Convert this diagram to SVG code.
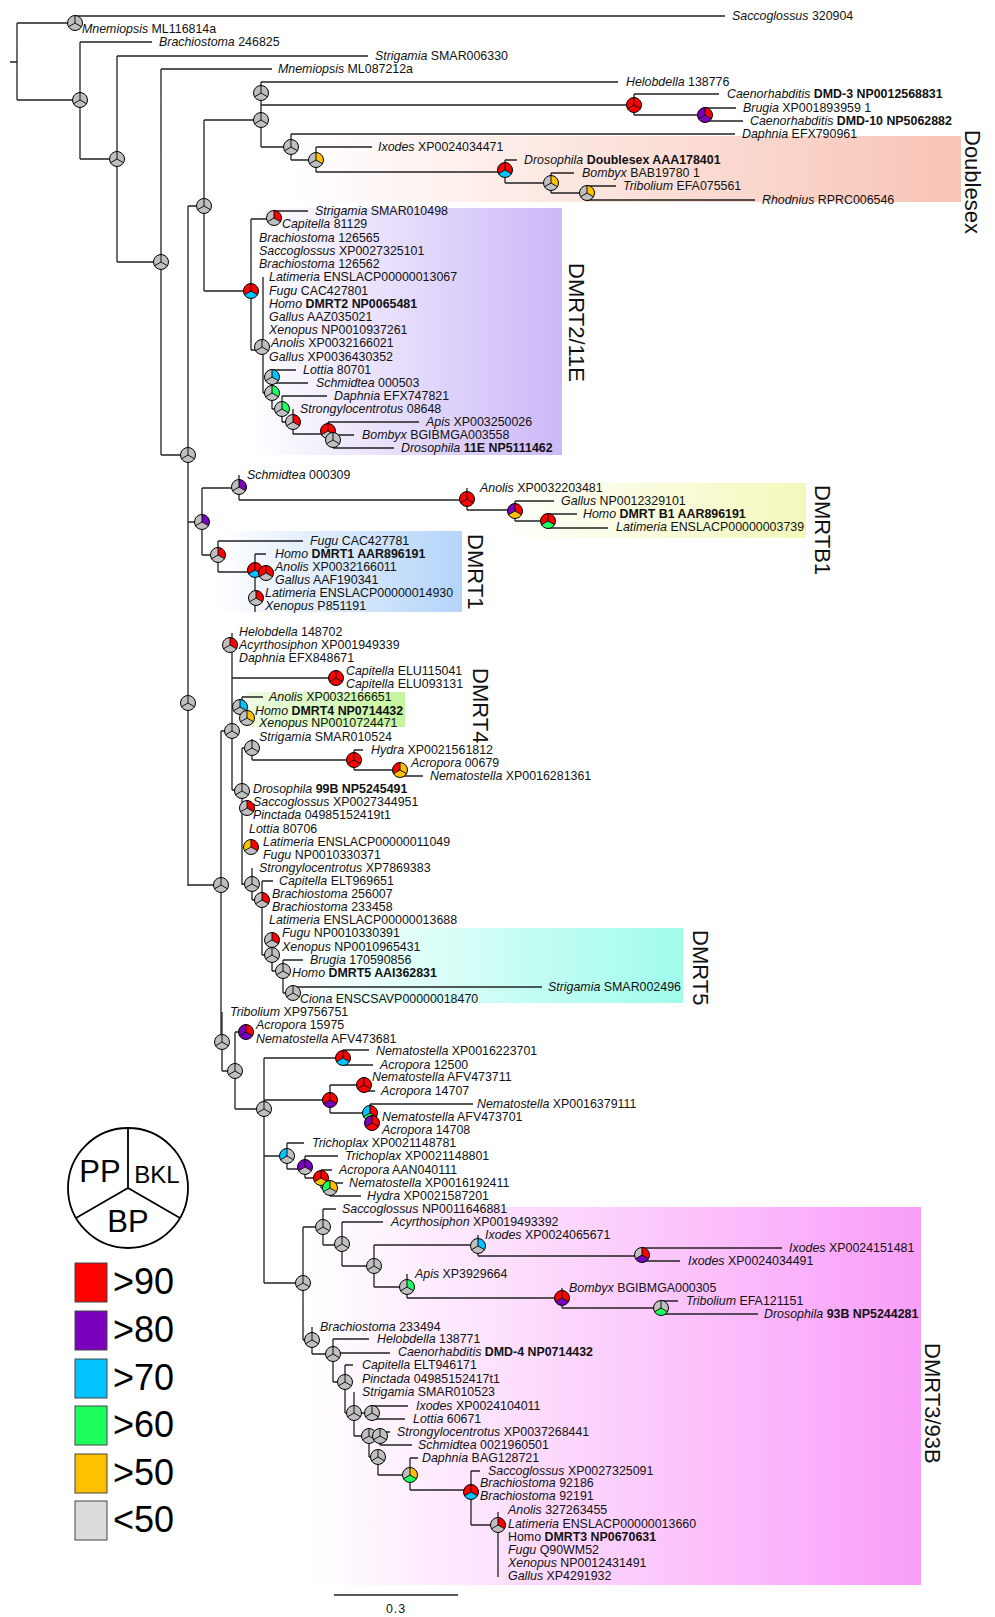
<svg xmlns="http://www.w3.org/2000/svg" xmlns:xlink="http://www.w3.org/1999/xlink" width="995" height="1617" viewBox="0 0 995 1617">
<style>
.t{font-family:"Liberation Sans",Arial,sans-serif;font-size:12.4px;fill:#111}
.i{font-style:italic}
.b{font-weight:bold}
.cl{font-family:"Liberation Sans",Arial,sans-serif;font-size:22px;fill:#111}
.lg{font-family:"Liberation Sans",Arial,sans-serif;fill:#000}
.g{fill:#BFBFBF}.r{fill:#FF0000}.p{fill:#7A00BE}.c{fill:#00C3FF}.e{fill:#1CFF5E}.y{fill:#FFC000}
.ed{fill:none;stroke:#222;stroke-width:1.3}
.sq{stroke:#444;stroke-width:1}
</style>
<defs>
<linearGradient id="gDsx" x1="0" x2="1" y1="0" y2="0"><stop offset="0" stop-color="#FFFFFF"/><stop offset="1" stop-color="#F8C4B6"/></linearGradient>
<linearGradient id="gD2" x1="0" x2="1" y1="0" y2="0"><stop offset="0" stop-color="#FFFFFF"/><stop offset="1" stop-color="#CCB8F8"/></linearGradient>
<linearGradient id="gB1" x1="0" x2="1" y1="0" y2="0"><stop offset="0" stop-color="#FFFFFF"/><stop offset="1" stop-color="#F4F8BA"/></linearGradient>
<linearGradient id="gD1" x1="0" x2="1" y1="0" y2="0"><stop offset="0" stop-color="#FFFFFF"/><stop offset="1" stop-color="#B4D4FA"/></linearGradient>
<linearGradient id="gD4" x1="0" x2="1" y1="0" y2="0"><stop offset="0" stop-color="#EEFCE2"/><stop offset="1" stop-color="#C4F59C"/></linearGradient>
<linearGradient id="gD5" x1="0" x2="1" y1="0" y2="0"><stop offset="0" stop-color="#FFFFFF"/><stop offset="1" stop-color="#A0FCEC"/></linearGradient>
<linearGradient id="gD3" x1="0" x2="1" y1="0" y2="0"><stop offset="0" stop-color="#FFFFFF"/><stop offset="1" stop-color="#F99EF9"/></linearGradient>
<path id="a" d="M0 0V-7.5A7.5 7.5 0 0 0 -6.495 3.75Z"/>
<path id="b" d="M0 0V-7.5A7.5 7.5 0 0 1 6.495 3.75Z"/>
<path id="c" d="M0 0L6.495 3.75A7.5 7.5 0 0 1 -6.495 3.75Z"/>
<g id="f"><circle r="7.5" fill="none" stroke="#000" stroke-width="1"/><path d="M0 0V-7.5M0 0L6.495 3.75M0 0L-6.495 3.75" stroke="#000" stroke-width="0.9" fill="none"/></g>
<g id="G"><circle r="7.5" class="g"/><use href="#f"/></g>
</defs>
<rect width="995" height="1617" fill="#FFFFFF"/>
<g id="clades">
<rect x="290" y="136" width="671" height="66" fill="url(#gDsx)"/>
<rect x="250" y="208" width="312" height="247" fill="url(#gD2)"/>
<rect x="490" y="483" width="316" height="55" fill="url(#gB1)"/>
<rect x="216" y="531" width="246" height="81" fill="url(#gD1)"/>
<rect x="247" y="692" width="158" height="35" fill="url(#gD4)"/>
<rect x="280" y="928" width="403" height="75" fill="url(#gD5)"/>
<rect x="310" y="1207" width="611" height="378" fill="url(#gD3)"/>
<text class="cl" transform="translate(965,130) rotate(90)">Doublesex</text>
<text class="cl" transform="translate(569,263) rotate(90)">DMRT2/11E</text>
<text class="cl" transform="translate(815,485) rotate(90)">DMRTB1</text>
<text class="cl" transform="translate(468,534) rotate(90)">DMRT1</text>
<text class="cl" transform="translate(473,668) rotate(90)">DMRT4</text>
<text class="cl" transform="translate(693,930) rotate(90)">DMRT5</text>
<text class="cl" transform="translate(925,1343) rotate(90)">DMRT3/93B</text>
</g>
<g id="connectors">
<path class="ed" d="M10 62H17M17 23V100M17 23H75M75 16V29M75 16H725M17 100H80M80 42V159M80 42H152M80 159H117M117 56V262M117 56H368M117 262H161M161 69V455M161 69H272M161 455H188M188 206V886M188 206H204M204 120V291M204 120H261M261 82V147M261 82H618M261 105H634M634 94V115M634 94H719M634 115H705M705 108V121M705 108H736M705 121H743M261 147H291M291 134V160M291 134H735M291 160H316M316 147V172M316 147H372M316 172H505M505 160V183M505 160H517M505 183H551M551 173V193M551 173H574M551 193H587M587 186V200M587 186H616M587 200H755"/>
<path class="ed" d="M204 291H251M251 219V350M251 219H274M274 211V225M274 211H308M251 350H263M263 277V393M263 393H272M272 377V409M273 370V383M273 370H296M273 383H308M272 409H282M282 396V422M282 396H327M282 422H293M293 409V434M293 434H328M328 422V440M328 422H419M328 440H333M333 435V448M333 435H354M333 448H394"/>
<path class="ed" d="M188 522H202M202 488V555M202 488H239M239 475V500M239 500H467M467 488V510M467 510H515M515 501V521M515 501H554M515 521H548M548 514V528M548 514H577M548 528H608M202 555H218M218 541V572M218 541H303M218 572H255M255 554V612M255 554H266"/>
<path class="ed" d="M188 885H221M221 731V1042M221 731H232M232 633V790M232 678H336M336 671V684M232 707H242M242 697V718M242 697H263M232 790H242M242 748V885M242 748H252M252 739V760M252 760H354M354 750V770M354 750H363M354 770H400M400 763V776M400 776H423M242 884H252M252 868V900M252 900H262M262 881V955M262 881H273M262 955H272M272 940V971M272 971H283M283 960V993M283 960H303M283 993H293M293 987V999M293 987H542"/>
<path class="ed" d="M222 1012V1071M222 1071H235M235 1032V1109M235 1032H246M235 1109H264M264 1058V1283M264 1058H343M343 1050V1065M343 1050H369M343 1065H373M264 1100H330M330 1085V1113M330 1085H364M364 1077V1091M364 1091H375M330 1113H370M370 1104V1123M370 1104H473M264 1156H287M287 1143V1169M287 1143H304M287 1169H305M305 1156V1178M305 1156H338M305 1178H321M321 1170V1188M321 1170H332M321 1188H330M330 1183V1196M330 1183H343M330 1196H361"/>
<path class="ed" d="M264 1283H303M303 1227V1340M303 1227H323M323 1209V1245M323 1209H336M323 1245H342M342 1222V1266M342 1222H383M342 1266H374M374 1245V1287M374 1245H478M478 1235V1256M478 1256H642M642 1248V1261M642 1248H782M642 1261H680M374 1287H407M407 1274V1298M407 1298H562M562 1288V1308M562 1308H661M661 1301V1314M661 1301H678M661 1314H758"/>
<path class="ed" d="M303 1340H312M312 1327V1354M312 1354H333M333 1339V1382M333 1339H369M333 1353H390M333 1382H345M345 1365V1413M345 1365H353M345 1413H354M354 1392V1436M354 1413H372M372 1406V1419M372 1406H408M372 1419H405M354 1436H380M380 1432V1445M380 1432H390M380 1445H412M369 1436V1457M369 1457H378M378 1457V1475M378 1475H410M410 1458V1490M410 1458H418M410 1490H471M471 1471V1525M471 1471H480M471 1525H498M498 1512V1577"/>
<path class="ed" d="M334 1595H458"/>
</g>
<g id="labels" class="t">
<text x="732" y="20.4"><tspan class="i">Saccoglossus</tspan> 320904</text>
<text x="82" y="33.4"><tspan class="i">Mnemiopsis</tspan> ML116814a</text>
<text x="159" y="46.4"><tspan class="i">Brachiostoma</tspan> 246825</text>
<text x="375" y="60.4"><tspan class="i">Strigamia</tspan> SMAR006330</text>
<text x="278" y="73.4"><tspan class="i">Mnemiopsis</tspan> ML087212a</text>
<text x="626" y="86.4"><tspan class="i">Helobdella</tspan> 138776</text>
<text x="727" y="98.4"><tspan class="i">Caenorhabditis</tspan> <tspan class="b">DMD-3 NP0012568831</tspan></text>
<text x="743" y="112.4"><tspan class="i">Brugia</tspan> XP001893959 1</text>
<text x="750" y="125.4"><tspan class="i">Caenorhabditis</tspan> <tspan class="b">DMD-10 NP5062882</tspan></text>
<text x="742" y="138.4"><tspan class="i">Daphnia</tspan> EFX790961</text>
<text x="378" y="151.4"><tspan class="i">Ixodes</tspan> XP0024034471</text>
<text x="524" y="164.4"><tspan class="i">Drosophila</tspan> <tspan class="b">Doublesex AAA178401</tspan></text>
<text x="582" y="177.4"><tspan class="i">Bombyx</tspan> BAB19780 1</text>
<text x="623" y="190.4"><tspan class="i">Tribolium</tspan> EFA075561</text>
<text x="762" y="203.9"><tspan class="i">Rhodnius</tspan> RPRC006546</text>
<text x="315" y="215.4"><tspan class="i">Strigamia</tspan> SMAR010498</text>
<text x="282" y="228.4"><tspan class="i">Capitella</tspan> 81129</text>
<text x="259" y="242.4"><tspan class="i">Brachiostoma</tspan> 126565</text>
<text x="259" y="255.4"><tspan class="i">Saccoglossus</tspan> XP0027325101</text>
<text x="259" y="268.4"><tspan class="i">Brachiostoma</tspan> 126562</text>
<text x="269" y="281.4"><tspan class="i">Latimeria</tspan> ENSLACP00000013067</text>
<text x="269" y="294.6"><tspan class="i">Fugu</tspan> CAC427801</text>
<text x="269" y="308"><tspan class="i">Homo</tspan> <tspan class="b">DMRT2 NP0065481</tspan></text>
<text x="269" y="321"><tspan class="i">Gallus</tspan> AAZ035021</text>
<text x="269" y="334.2"><tspan class="i">Xenopus</tspan> NP0010937261</text>
<text x="271" y="347.2"><tspan class="i">Anolis</tspan> XP0032166021</text>
<text x="269" y="361"><tspan class="i">Gallus</tspan> XP0036430352</text>
<text x="303" y="374.2"><tspan class="i">Lottia</tspan> 80701</text>
<text x="316" y="387.2"><tspan class="i">Schmidtea</tspan> 000503</text>
<text x="334" y="400.4"><tspan class="i">Daphnia</tspan> EFX747821</text>
<text x="300" y="413.2"><tspan class="i">Strongylocentrotus</tspan> 08648</text>
<text x="426" y="426.2"><tspan class="i">Apis</tspan> XP003250026</text>
<text x="362" y="439.2"><tspan class="i">Bombyx</tspan> BGIBMGA003558</text>
<text x="401" y="452.2"><tspan class="i">Drosophila</tspan> <tspan class="b">11E NP5111462</tspan></text>
<text x="247" y="479.4"><tspan class="i">Schmidtea</tspan> 000309</text>
<text x="480" y="492.4"><tspan class="i">Anolis</tspan> XP0032203481</text>
<text x="561" y="505.4"><tspan class="i">Gallus</tspan> NP0012329101</text>
<text x="583" y="518.4"><tspan class="i">Homo</tspan> <tspan class="b">DMRT B1 AAR896191</tspan></text>
<text x="616" y="531.4"><tspan class="i">Latimeria</tspan> ENSLACP00000003739</text>
<text x="310" y="545.4"><tspan class="i">Fugu</tspan> CAC427781</text>
<text x="275" y="558.4"><tspan class="i">Homo</tspan> <tspan class="b">DMRT1 AAR896191</tspan></text>
<text x="275" y="570.6"><tspan class="i">Anolis</tspan> XP0032166011</text>
<text x="275" y="583.6"><tspan class="i">Gallus</tspan> AAF190341</text>
<text x="265" y="597.2"><tspan class="i">Latimeria</tspan> ENSLACP00000014930</text>
<text x="265" y="610.2"><tspan class="i">Xenopus</tspan> P851191</text>
<text x="239" y="636.2"><tspan class="i">Helobdella</tspan> 148702</text>
<text x="239" y="649.4"><tspan class="i">Acyrthosiphon</tspan> XP001949339</text>
<text x="239" y="662.2"><tspan class="i">Daphnia</tspan> EFX848671</text>
<text x="346" y="675.2"><tspan class="i">Capitella</tspan> ELU115041</text>
<text x="346" y="688.4"><tspan class="i">Capitella</tspan> ELU093131</text>
<text x="269" y="701.2"><tspan class="i">Anolis</tspan> XP0032166651</text>
<text x="255" y="714.6"><tspan class="i">Homo</tspan> <tspan class="b">DMRT4 NP0714432</tspan></text>
<text x="259" y="727.4"><tspan class="i">Xenopus</tspan> NP0010724471</text>
<text x="259" y="741"><tspan class="i">Strigamia</tspan> SMAR010524</text>
<text x="371" y="754.2"><tspan class="i">Hydra</tspan> XP0021561812</text>
<text x="411" y="767"><tspan class="i">Acropora</tspan> 00679</text>
<text x="430" y="780.4"><tspan class="i">Nematostella</tspan> XP0016281361</text>
<text x="253" y="792.6"><tspan class="i">Drosophila</tspan> <tspan class="b">99B NP5245491</tspan></text>
<text x="253" y="806"><tspan class="i">Saccoglossus</tspan> XP0027344951</text>
<text x="253" y="819.4"><tspan class="i">Pinctada</tspan> 04985152419t1</text>
<text x="249" y="833.2"><tspan class="i">Lottia</tspan> 80706</text>
<text x="263" y="846.2"><tspan class="i">Latimeria</tspan> ENSLACP00000011049</text>
<text x="263" y="859.2"><tspan class="i">Fugu</tspan> NP0010330371</text>
<text x="259" y="872.2"><tspan class="i">Strongylocentrotus</tspan> XP7869383</text>
<text x="279" y="885.2"><tspan class="i">Capitella</tspan> ELT969651</text>
<text x="272" y="898.2"><tspan class="i">Brachiostoma</tspan> 256007</text>
<text x="272" y="911"><tspan class="i">Brachiostoma</tspan> 233458</text>
<text x="269" y="924.2"><tspan class="i">Latimeria</tspan> ENSLACP00000013688</text>
<text x="282" y="937"><tspan class="i">Fugu</tspan> NP0010330391</text>
<text x="282" y="950.6"><tspan class="i">Xenopus</tspan> NP0010965431</text>
<text x="310" y="964"><tspan class="i">Brugia</tspan> 170590856</text>
<text x="292" y="977"><tspan class="i">Homo</tspan> <tspan class="b">DMRT5 AAI362831</tspan></text>
<text x="548" y="990.6"><tspan class="i">Strigamia</tspan> SMAR002496</text>
<text x="300" y="1003"><tspan class="i">Ciona</tspan> ENSCSAVP00000018470</text>
<text x="230" y="1016"><tspan class="i">Tribolium</tspan> XP9756751</text>
<text x="256" y="1029.4"><tspan class="i">Acropora</tspan> 15975</text>
<text x="256" y="1042.6"><tspan class="i">Nematostella</tspan> AFV473681</text>
<text x="376" y="1054.6"><tspan class="i">Nematostella</tspan> XP0016223701</text>
<text x="380" y="1069.4"><tspan class="i">Acropora</tspan> 12500</text>
<text x="372" y="1081.4"><tspan class="i">Nematostella</tspan> AFV473711</text>
<text x="381" y="1095.4"><tspan class="i">Acropora</tspan> 14707</text>
<text x="477" y="1108.4"><tspan class="i">Nematostella</tspan> XP0016379111</text>
<text x="382" y="1121.4"><tspan class="i">Nematostella</tspan> AFV473701</text>
<text x="382" y="1134.4"><tspan class="i">Acropora</tspan> 14708</text>
<text x="312" y="1147.4"><tspan class="i">Trichoplax</tspan> XP0021148781</text>
<text x="345" y="1160.4"><tspan class="i">Trichoplax</tspan> XP0021148801</text>
<text x="339" y="1174.4"><tspan class="i">Acropora</tspan> AAN040111</text>
<text x="349" y="1187.4"><tspan class="i">Nematostella</tspan> XP0016192411</text>
<text x="367" y="1200.4"><tspan class="i">Hydra</tspan> XP0021587201</text>
<text x="342" y="1213.4"><tspan class="i">Saccoglossus</tspan> NP0011646881</text>
<text x="391" y="1226.4"><tspan class="i">Acyrthosiphon</tspan> XP0019493392</text>
<text x="485" y="1239.4"><tspan class="i">Ixodes</tspan> XP0024065671</text>
<text x="789" y="1252.4"><tspan class="i">Ixodes</tspan> XP0024151481</text>
<text x="688" y="1265.4"><tspan class="i">Ixodes</tspan> XP0024034491</text>
<text x="415" y="1278.4"><tspan class="i">Apis</tspan> XP3929664</text>
<text x="569" y="1292.4"><tspan class="i">Bombyx</tspan> BGIBMGA000305</text>
<text x="686" y="1305.4"><tspan class="i">Tribolium</tspan> EFA121151</text>
<text x="764" y="1318.4"><tspan class="i">Drosophila</tspan> <tspan class="b">93B NP5244281</tspan></text>
<text x="320" y="1331.4"><tspan class="i">Brachiostoma</tspan> 233494</text>
<text x="377" y="1343.4"><tspan class="i">Helobdella</tspan> 138771</text>
<text x="398" y="1356.4"><tspan class="i">Caenorhabditis</tspan> <tspan class="b">DMD-4 NP0714432</tspan></text>
<text x="362" y="1369.4"><tspan class="i">Capitella</tspan> ELT946171</text>
<text x="362" y="1383.4"><tspan class="i">Pinctada</tspan> 04985152417t1</text>
<text x="362" y="1396.4"><tspan class="i">Strigamia</tspan> SMAR010523</text>
<text x="416" y="1410.4"><tspan class="i">Ixodes</tspan> XP0024104011</text>
<text x="413" y="1423.4"><tspan class="i">Lottia</tspan> 60671</text>
<text x="397" y="1436.4"><tspan class="i">Strongylocentrotus</tspan> XP0037268441</text>
<text x="418" y="1449.4"><tspan class="i">Schmidtea</tspan> 0021960501</text>
<text x="422" y="1462.4"><tspan class="i">Daphnia</tspan> BAG128721</text>
<text x="488" y="1475.4"><tspan class="i">Saccoglossus</tspan> XP0027325091</text>
<text x="480" y="1487.4"><tspan class="i">Brachiostoma</tspan> 92186</text>
<text x="480" y="1500.4"><tspan class="i">Brachiostoma</tspan> 92191</text>
<text x="508" y="1514.4"><tspan class="i">Anolis</tspan> 327263455</text>
<text x="508" y="1528.4"><tspan class="i">Latimeria</tspan> ENSLACP00000013660</text>
<text x="508" y="1541.4">Homo <tspan class="b">DMRT3 NP0670631</tspan></text>
<text x="508" y="1554.4"><tspan class="i">Fugu</tspan> Q90WM52</text>
<text x="508" y="1567.4"><tspan class="i">Xenopus</tspan> NP0012431491</text>
<text x="508" y="1580.4"><tspan class="i">Gallus</tspan> XP4291932</text>
<text x="396" y="1613" text-anchor="middle" letter-spacing="1">0.3</text>
</g>
<g id="nodes">
<g id="n1" transform="translate(75,23)"><use href="#G"/></g>
<g id="n2" transform="translate(80,100)"><use href="#G"/></g>
<g id="n3" transform="translate(117,159)"><use href="#G"/></g>
<g id="n4" transform="translate(161,262)"><use href="#G"/></g>
<g id="n5" transform="translate(188,455)"><use href="#G"/></g>
<g id="n6" transform="translate(204,206)"><use href="#G"/></g>
<g id="n7" transform="translate(261,120)"><use href="#G"/></g>
<g id="n8" transform="translate(261,93)"><use href="#G"/></g>
<g id="n9" transform="translate(634,105)"><use href="#a" class="r"/><use href="#b" class="r"/><use href="#c" class="r"/><use href="#f"/></g>
<g id="n10" transform="translate(705,115)"><use href="#a" class="p"/><use href="#b" class="r"/><use href="#c" class="p"/><use href="#f"/></g>
<g id="n11" transform="translate(291,147)"><use href="#G"/></g>
<g id="n12" transform="translate(316,160)"><use href="#a" class="g"/><use href="#b" class="y"/><use href="#c" class="g"/><use href="#f"/></g>
<g id="n13" transform="translate(505,170)"><use href="#a" class="r"/><use href="#b" class="r"/><use href="#c" class="c"/><use href="#f"/></g>
<g id="n14" transform="translate(551,183)"><use href="#a" class="g"/><use href="#b" class="y"/><use href="#c" class="g"/><use href="#f"/></g>
<g id="n15" transform="translate(587,193)"><use href="#a" class="g"/><use href="#b" class="y"/><use href="#c" class="g"/><use href="#f"/></g>
<g id="n16" transform="translate(251,291)"><use href="#a" class="r"/><use href="#b" class="r"/><use href="#c" class="c"/><use href="#f"/></g>
<g id="n17" transform="translate(274,218)"><use href="#a" class="g"/><use href="#b" class="r"/><use href="#c" class="g"/><use href="#f"/></g>
<g id="n18" transform="translate(262,347)"><use href="#G"/></g>
<g id="n19" transform="translate(272,393)"><use href="#a" class="g"/><use href="#b" class="e"/><use href="#c" class="g"/><use href="#f"/></g>
<g id="n20" transform="translate(272,377)"><use href="#a" class="g"/><use href="#b" class="c"/><use href="#c" class="g"/><use href="#f"/></g>
<g id="n21" transform="translate(282,409)"><use href="#a" class="g"/><use href="#b" class="e"/><use href="#c" class="g"/><use href="#f"/></g>
<g id="n22" transform="translate(293,422)"><use href="#a" class="g"/><use href="#b" class="r"/><use href="#c" class="g"/><use href="#f"/></g>
<g id="n23" transform="translate(328,431)"><use href="#a" class="r"/><use href="#b" class="r"/><use href="#c" class="g"/><use href="#f"/></g>
<g id="n24" transform="translate(333,440)"><use href="#G"/></g>
<g id="n25" transform="translate(188,703)"><use href="#G"/></g>
<g id="n26" transform="translate(202,522)"><use href="#a" class="g"/><use href="#b" class="p"/><use href="#c" class="g"/><use href="#f"/></g>
<g id="n27" transform="translate(239,487)"><use href="#a" class="g"/><use href="#b" class="p"/><use href="#c" class="g"/><use href="#f"/></g>
<g id="n28" transform="translate(467,499)"><use href="#a" class="r"/><use href="#b" class="r"/><use href="#c" class="r"/><use href="#f"/></g>
<g id="n29" transform="translate(515,511)"><use href="#a" class="p"/><use href="#b" class="r"/><use href="#c" class="y"/><use href="#f"/></g>
<g id="n30" transform="translate(548,521)"><use href="#a" class="r"/><use href="#b" class="r"/><use href="#c" class="e"/><use href="#f"/></g>
<g id="n31" transform="translate(218,555)"><use href="#a" class="g"/><use href="#b" class="r"/><use href="#c" class="g"/><use href="#f"/></g>
<g id="n32" transform="translate(255,570)"><use href="#a" class="r"/><use href="#b" class="r"/><use href="#c" class="c"/><use href="#f"/></g>
<g id="n33" transform="translate(266,573)"><use href="#a" class="r"/><use href="#b" class="r"/><use href="#c" class="g"/><use href="#f"/></g>
<g id="n34" transform="translate(256,598)"><use href="#a" class="g"/><use href="#b" class="r"/><use href="#c" class="g"/><use href="#f"/></g>
<g id="n35" transform="translate(221,885)"><use href="#G"/></g>
<g id="n36" transform="translate(232,731)"><use href="#G"/></g>
<g id="n37" transform="translate(230,645)"><use href="#a" class="g"/><use href="#b" class="r"/><use href="#c" class="g"/><use href="#f"/></g>
<g id="n38" transform="translate(336,678)"><use href="#a" class="r"/><use href="#b" class="r"/><use href="#c" class="r"/><use href="#f"/></g>
<g id="n39" transform="translate(240,707)"><use href="#a" class="g"/><use href="#b" class="c"/><use href="#c" class="g"/><use href="#f"/></g>
<g id="n40" transform="translate(247,718)"><use href="#a" class="g"/><use href="#b" class="y"/><use href="#c" class="g"/><use href="#f"/></g>
<g id="n41" transform="translate(252,748)"><use href="#G"/></g>
<g id="n42" transform="translate(354,760)"><use href="#a" class="r"/><use href="#b" class="r"/><use href="#c" class="r"/><use href="#f"/></g>
<g id="n43" transform="translate(400,770)"><use href="#a" class="r"/><use href="#b" class="y"/><use href="#c" class="y"/><use href="#f"/></g>
<g id="n44" transform="translate(242,791)"><use href="#G"/></g>
<g id="n45" transform="translate(247,808)"><use href="#a" class="g"/><use href="#b" class="r"/><use href="#c" class="g"/><use href="#f"/></g>
<g id="n46" transform="translate(251,847)"><use href="#a" class="y"/><use href="#b" class="r"/><use href="#c" class="g"/><use href="#f"/></g>
<g id="n47" transform="translate(252,884)"><use href="#G"/></g>
<g id="n48" transform="translate(262,900)"><use href="#a" class="g"/><use href="#b" class="r"/><use href="#c" class="g"/><use href="#f"/></g>
<g id="n49" transform="translate(272,940)"><use href="#a" class="g"/><use href="#b" class="r"/><use href="#c" class="g"/><use href="#f"/></g>
<g id="n50" transform="translate(272,955)"><use href="#G"/></g>
<g id="n51" transform="translate(283,971)"><use href="#G"/></g>
<g id="n52" transform="translate(293,993)"><use href="#G"/></g>
<g id="n53" transform="translate(222,1042)"><use href="#G"/></g>
<g id="n54" transform="translate(235,1071)"><use href="#G"/></g>
<g id="n55" transform="translate(246,1032)"><use href="#a" class="p"/><use href="#b" class="r"/><use href="#c" class="p"/><use href="#f"/></g>
<g id="n56" transform="translate(264,1109)"><use href="#G"/></g>
<g id="n57" transform="translate(343,1058)"><use href="#a" class="r"/><use href="#b" class="r"/><use href="#c" class="c"/><use href="#f"/></g>
<g id="n58" transform="translate(330,1100)"><use href="#a" class="r"/><use href="#b" class="r"/><use href="#c" class="p"/><use href="#f"/></g>
<g id="n59" transform="translate(364,1085)"><use href="#a" class="r"/><use href="#b" class="r"/><use href="#c" class="r"/><use href="#f"/></g>
<g id="n60" transform="translate(370,1113)"><use href="#a" class="c"/><use href="#b" class="r"/><use href="#c" class="e"/><use href="#f"/></g>
<g id="n61" transform="translate(372,1123)"><use href="#a" class="p"/><use href="#b" class="r"/><use href="#c" class="r"/><use href="#f"/></g>
<g id="n62" transform="translate(287,1156)"><use href="#a" class="c"/><use href="#b" class="g"/><use href="#c" class="g"/><use href="#f"/></g>
<g id="n63" transform="translate(305,1167)"><use href="#a" class="p"/><use href="#b" class="p"/><use href="#c" class="g"/><use href="#f"/></g>
<g id="n64" transform="translate(321,1178)"><use href="#a" class="r"/><use href="#b" class="r"/><use href="#c" class="y"/><use href="#f"/></g>
<g id="n65" transform="translate(330,1188)"><use href="#a" class="e"/><use href="#b" class="y"/><use href="#c" class="g"/><use href="#f"/></g>
<g id="n66" transform="translate(303,1283)"><use href="#G"/></g>
<g id="n67" transform="translate(323,1227)"><use href="#G"/></g>
<g id="n68" transform="translate(342,1244)"><use href="#G"/></g>
<g id="n69" transform="translate(374,1266)"><use href="#G"/></g>
<g id="n70" transform="translate(478,1246)"><use href="#a" class="g"/><use href="#b" class="c"/><use href="#c" class="g"/><use href="#f"/></g>
<g id="n71" transform="translate(642,1255)"><use href="#a" class="g"/><use href="#b" class="r"/><use href="#c" class="p"/><use href="#f"/></g>
<g id="n72" transform="translate(407,1287)"><use href="#a" class="g"/><use href="#b" class="e"/><use href="#c" class="g"/><use href="#f"/></g>
<g id="n73" transform="translate(562,1298)"><use href="#a" class="r"/><use href="#b" class="r"/><use href="#c" class="p"/><use href="#f"/></g>
<g id="n74" transform="translate(661,1308)"><use href="#a" class="g"/><use href="#b" class="g"/><use href="#c" class="e"/><use href="#f"/></g>
<g id="n75" transform="translate(312,1340)"><use href="#G"/></g>
<g id="n76" transform="translate(333,1354)"><use href="#G"/></g>
<g id="n77" transform="translate(345,1382)"><use href="#G"/></g>
<g id="n78" transform="translate(354,1413)"><use href="#G"/></g>
<g id="n79" transform="translate(372,1413)"><use href="#G"/></g>
<g id="n80" transform="translate(369,1436)"><use href="#G"/></g>
<g id="n81" transform="translate(380,1436)"><use href="#G"/></g>
<g id="n82" transform="translate(378,1457)"><use href="#G"/></g>
<g id="n83" transform="translate(410,1475)"><use href="#a" class="g"/><use href="#b" class="y"/><use href="#c" class="e"/><use href="#f"/></g>
<g id="n84" transform="translate(471,1492)"><use href="#a" class="r"/><use href="#b" class="r"/><use href="#c" class="c"/><use href="#f"/></g>
<g id="n85" transform="translate(498,1525)"><use href="#a" class="g"/><use href="#b" class="r"/><use href="#c" class="g"/><use href="#f"/></g>
</g>
<g id="legend">
<circle cx="128" cy="1188" r="60" fill="#FFFFFF" stroke="#000" stroke-width="1.8"/>
<path d="M128 1188V1128M128 1188L76 1218M128 1188L180 1218" stroke="#000" stroke-width="1.8" fill="none"/>
<text class="lg" x="100" y="1182" font-size="31" text-anchor="middle">PP</text>
<text class="lg" x="157" y="1183" font-size="24" text-anchor="middle">BKL</text>
<text class="lg" x="128" y="1232" font-size="31" text-anchor="middle">BP</text>
<rect class="sq r" x="75" y="1263" width="32" height="39"/>
<rect class="sq p" x="75" y="1311" width="32" height="39"/>
<rect class="sq c" x="75" y="1359" width="32" height="39"/>
<rect class="sq e" x="75" y="1406" width="32" height="39"/>
<rect class="sq y" x="75" y="1454" width="32" height="39"/>
<rect class="sq" x="75" y="1501" width="32" height="39" fill="#DCDCDC"/>
<text class="lg" x="113" y="1294" font-size="36">&gt;90</text>
<text class="lg" x="113" y="1342" font-size="36">&gt;80</text>
<text class="lg" x="113" y="1390" font-size="36">&gt;70</text>
<text class="lg" x="113" y="1437" font-size="36">&gt;60</text>
<text class="lg" x="113" y="1485" font-size="36">&gt;50</text>
<text class="lg" x="113" y="1532" font-size="36">&lt;50</text>
</g>
</svg>
